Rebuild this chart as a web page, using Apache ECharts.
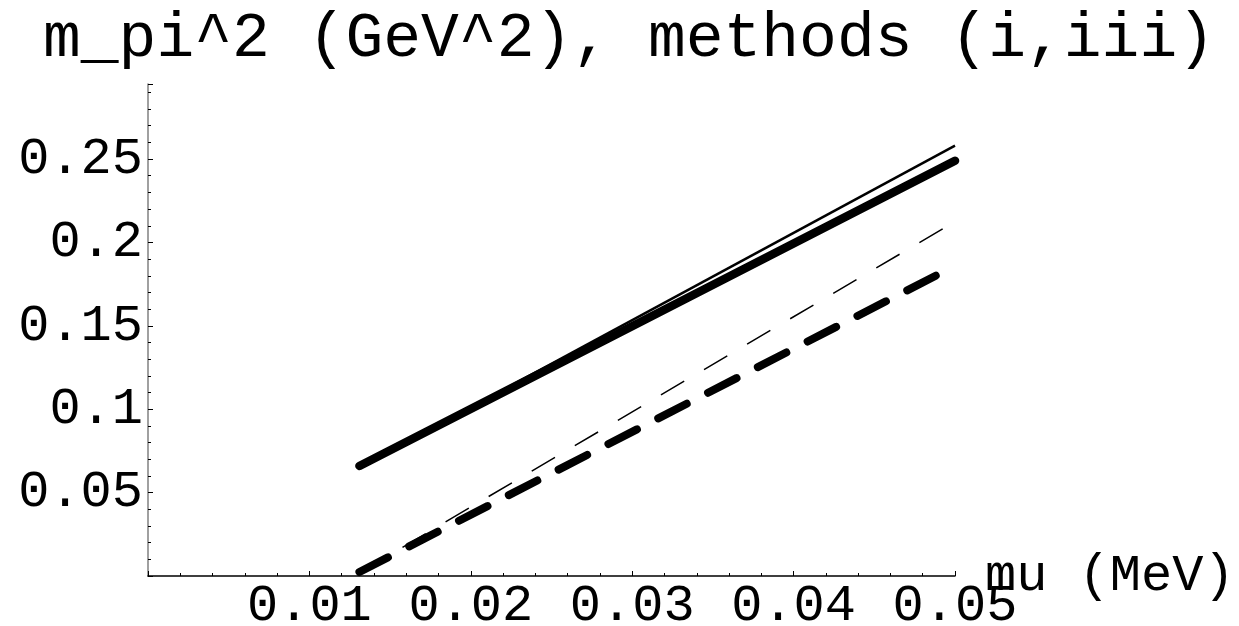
<!DOCTYPE html>
<html>
<head>
<meta charset="utf-8">
<script src="https://cdn.jsdelivr.net/npm/echarts@6/dist/echarts.min.js"></script>
<style>
  html, body { margin: 0; padding: 0; background: #ffffff; }
  #chart { width: 1239px; height: 626px; }
</style>
</head>
<body>
<div id="chart"></div>
<script>
// m_pi^2 against quark mass mu, methods (i) and (iii)
const titleText = 'm_pi^2 (GeV^2), methods (i,iii)';
const xName = 'mu (MeV)';

// [mu, m_pi^2] end points of each straight curve
const thinSolid  = [[0.0131, 0.065], [0.05, 0.258]];
const thickSolid = [[0.0131, 0.066], [0.05, 0.249]];
const thinDashed = [[0.0131, 0.002], [0.05, 0.2125]];
const thickDashed = [[0.0131, 0.0024], [0.05, 0.186]];

const xMin = 0, xMax = 0.05, xStep = 0.01;
const yMin = 0, yMax = 0.295, yStep = 0.05;

const FONT = '"Liberation Mono", "DejaVu Sans Mono", monospace';
const FS = 52;

const chart = echarts.init(document.getElementById('chart'), null, { renderer: 'canvas' });

function trimNum(v) {
  return String(parseFloat(v.toFixed(2)));
}

chart.setOption({
  backgroundColor: '#ffffff',
  animation: false,
  title: {
    text: titleText,
    left: 38,
    top: 3,
    textStyle: { fontFamily: FONT, fontSize: 63, fontWeight: 'normal', color: '#000' }
  },
  grid: {
    left: 148, right: 284, top: 84, bottom: 50,
    containLabel: false,
    outerBoundsMode: 'none'
  },
  xAxis: {
    type: 'value',
    min: xMin, max: xMax, interval: xStep,
    name: xName,
    nameLocation: 'end',
    nameGap: 30,
    nameMoveOverlap: false,
    nameTextStyle: { fontFamily: FONT, fontSize: FS, color: '#000', verticalAlign: 'middle', padding: [6, 0, 0, 0] },
    axisLine: { show: true, onZero: false, lineStyle: { color: '#000', width: 1.5 } },
    axisTick: { show: true, inside: true, length: 5, lineStyle: { color: '#000', width: 1 } },
    minorTick: { show: true, splitNumber: 5, length: 3, lineStyle: { color: '#000', width: 1 } },
    splitLine: { show: false },
    axisLabel: {
      showMinLabel: false,
      margin: 4,
      fontFamily: FONT, fontSize: FS, color: '#000',
      formatter: v => v.toFixed(2)
    }
  },
  yAxis: {
    type: 'value',
    min: yMin, max: yMax, interval: yStep,
    axisLine: { show: true, onZero: false, lineStyle: { color: '#808080', width: 1.5 } },
    axisTick: { show: true, inside: true, length: 5, lineStyle: { color: '#000', width: 1 } },
    minorTick: { show: true, splitNumber: 5, length: 3, lineStyle: { color: '#000', width: 1 } },
    splitLine: { show: false },
    axisLabel: {
      showMinLabel: false,
      showMaxLabel: false,
      margin: 5,
      fontFamily: FONT, fontSize: FS, color: '#000',
      formatter: v => trimNum(v)
    }
  },
  series: [
    {
      type: 'line', data: thinDashed, symbol: 'none',
      lineStyle: { color: '#000', width: 1.5, type: [27, 23] }
    },
    {
      type: 'line', data: thickDashed, symbol: 'none',
      lineStyle: { color: '#000', width: 8, type: [32, 24], cap: 'round' }
    },
    {
      type: 'line', data: thinSolid, symbol: 'none',
      lineStyle: { color: '#000', width: 2.5 }
    },
    {
      type: 'line', data: thickSolid, symbol: 'none',
      lineStyle: { color: '#000', width: 8.5, cap: 'round' }
    }
  ]
});
</script>
</body>
</html>
